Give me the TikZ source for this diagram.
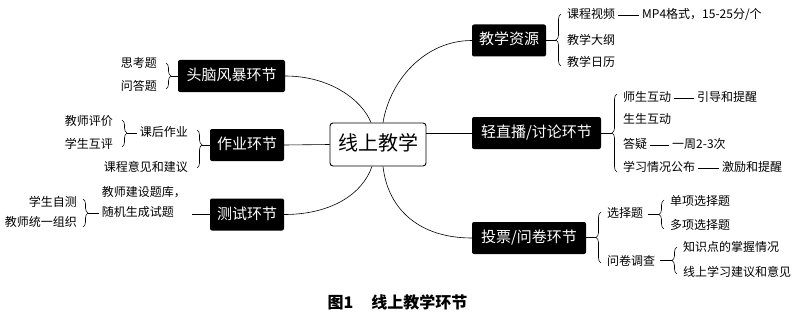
\documentclass[tikz,border=0pt]{standalone}
\usepackage{fontspec}
\setmainfont{Noto Sans CJK SC}
\usetikzlibrary{decorations.pathreplacing}
\begin{document}
\begin{tikzpicture}[x=1pt,y=-1pt,
  bx/.style={fill=black,text=white,rounded corners=2pt,font=\fontsize{15}{15}\selectfont,
    minimum height=32pt,inner xsep=6pt,inner ysep=0pt,text height=12pt,text depth=3pt},
  ctr/.style={draw,line width=0.9pt,rounded corners=3pt,fill=white,font=\fontsize{20}{20}\selectfont,
    minimum width=96pt,minimum height=43pt,text height=16pt,text depth=4pt},
  leaf/.style={font=\fontsize{12}{12}\selectfont,inner xsep=3pt,inner ysep=1pt,text height=9.5pt,text depth=2.5pt},
  lnk/.style={line width=0.6pt},
  brc/.style={decorate,decoration={brace,amplitude=5pt},line width=0.6pt}
]
\useasboundingbox (0,0) rectangle (800,313);

% main nodes
\node[ctr] (c) at (378,144.5) {线上教学};
\node[bx,minimum width=107pt] (b1) at (231.5,76) {头脑风暴环节};
\node[bx,minimum width=74pt] (b2) at (247,145) {作业环节};
\node[bx,minimum width=74pt] (b3) at (247,214.5) {测试环节};
\node[bx,minimum width=74pt] (b4) at (509,40.5) {教学资源};
\node[bx,minimum width=129pt] (b5) at (536.5,133) {轻直播/讨论环节};
\node[bx,minimum width=114pt] (b6) at (529,238) {投票/问卷环节};

% connectors from centre
\coordinate (c1) at ([xshift=-7pt]c.north);
\coordinate (c2) at ([xshift=5pt]c.north);
\coordinate (c3) at ([xshift=-6pt]c.south);
\coordinate (c4) at ([xshift=5pt]c.south);
\draw[lnk] (b1.east) .. controls (330,76) and (362,100) .. (c1);
\draw[lnk] (b4.west) .. controls (425,40.5) and (390,80) .. (c2);
\draw[lnk] (b5.west -| c.east) -- (b5.west);
\draw[lnk] (b2.east) -- (c.west);
\draw[lnk] (b3.east) .. controls (330,214.5) and (362,195) .. (c3);
\draw[lnk] (c4) .. controls (388,210) and (420,238) .. (b6.west);

% 头脑风暴环节
\node[leaf,anchor=east] (l1a) at (160,64) {思考题};
\node[leaf,anchor=east] (l1b) at (160,87) {问答题};
\draw[brc] (166,63) -- (166,89);
\coordinate (t1) at (171,76);
\draw[lnk] (t1) -- (b1.west);

% 作业环节
\node[leaf,anchor=east] (l2a) at (191,133) {课后作业};
\node[leaf,anchor=east] (l2b) at (191,168) {课程意见和建议};
\draw[brc,decoration={aspect=0.39}] (197,130) -- (197,168);
\coordinate (t2) at (202,145);
\draw[lnk] (t2) -- (b2.west);
\node[leaf,anchor=east] (l2c) at (116,122) {教师评价};
\node[leaf,anchor=east] (l2d) at (116,145) {学生互评};
\draw[brc,decoration={aspect=0.48}] (122,120) -- (122,147);
\coordinate (t3) at (127,133);
\draw[lnk] (t3) -- (l2a.west);

% 测试环节
\node[leaf,anchor=east,align=left,font=\fontsize{12}{20}\selectfont,text height=9.5pt] (l3) at (189,213) {教师建设题库，\\随机生成试题};
\draw[lnk,shorten <=3pt] (b3.west -| l3.east) -- (b3.west);
\node[leaf,anchor=east] (l3a) at (80,203) {学生自测};
\node[leaf,anchor=east] (l3b) at (80,223) {教师统一组织};
\draw[brc] (83,199) -- (83,227);
\coordinate (t4) at (88,213);
\draw[lnk] (t4) -- (l3.west |- t4);

% 教学资源
\draw[brc] (561,66) -- (561,14);
\coordinate (t5) at (556,40);
\draw[lnk] (b4.east |- t5) -- (t5);
\node[leaf,anchor=west] (r1a) at (564,15) {课程视频};
\node[leaf,anchor=west] (r1b) at (639,15) {MP4格式，15-25分/个};
\draw[lnk] (r1a) -- (r1b);
\node[leaf,anchor=west] (r1c) at (564,41) {教学大纲};
\node[leaf,anchor=west] (r1d) at (564,63) {教学日历};

% 轻直播/讨论环节
\draw[brc] (617,172) -- (617,94);
\coordinate (t6) at (612,133);
\draw[lnk] (b5.east) -- (t6);
\node[leaf,anchor=west] (r2a) at (620,98) {师生互动};
\node[leaf,anchor=west] (r2b) at (694,98) {引导和提醒};
\draw[lnk] (r2a) -- (r2b);
\node[leaf,anchor=west] (r2c) at (620,120) {生生互动};
\node[leaf,anchor=west] (r2d) at (620,145) {答疑};
\node[leaf,anchor=west] (r2e) at (669,145) {一周2-3次};
\draw[lnk] (r2d) -- (r2e);
\node[leaf,anchor=west] (r2f) at (620,168) {学习情况公布};
\node[leaf,anchor=west] (r2g) at (719,168) {激励和提醒};
\draw[lnk] (r2f) -- (r2g);

% 投票/问卷环节
\draw[brc] (601,263) -- (601,212);
\coordinate (t7) at (596,237.5);
\draw[lnk] (b6.east |- t7) -- (t7);
\node[leaf,anchor=west] (r3a) at (604,214) {选择题};
\node[leaf,anchor=west] (r3b) at (604,262) {问卷调查};
\draw[brc] (664,229) -- (664,200);
\coordinate (t8) at (659,214.5);
\draw[lnk,shorten <=2pt] (r3a.east |- t8) -- (t8);
\node[leaf,anchor=west] (r3c) at (667,202) {单项选择题};
\node[leaf,anchor=west] (r3d) at (667,226) {多项选择题};
\draw[brc] (677,274) -- (677,247);
\coordinate (t9) at (672,260.5);
\draw[lnk,shorten <=2pt] (r3b.east |- t9) -- (t9);
\node[leaf,anchor=west] (r3e) at (680,248) {知识点的掌握情况};
\node[leaf,anchor=west] (r3f) at (680,273) {线上学习建议和意见};

% caption
\node[font=\fontsize{16}{16}\selectfont\bfseries,inner sep=0pt] (cap) at (397.5,302) {图1\hspace{18pt}线上教学环节};
\end{tikzpicture}
\end{document}
